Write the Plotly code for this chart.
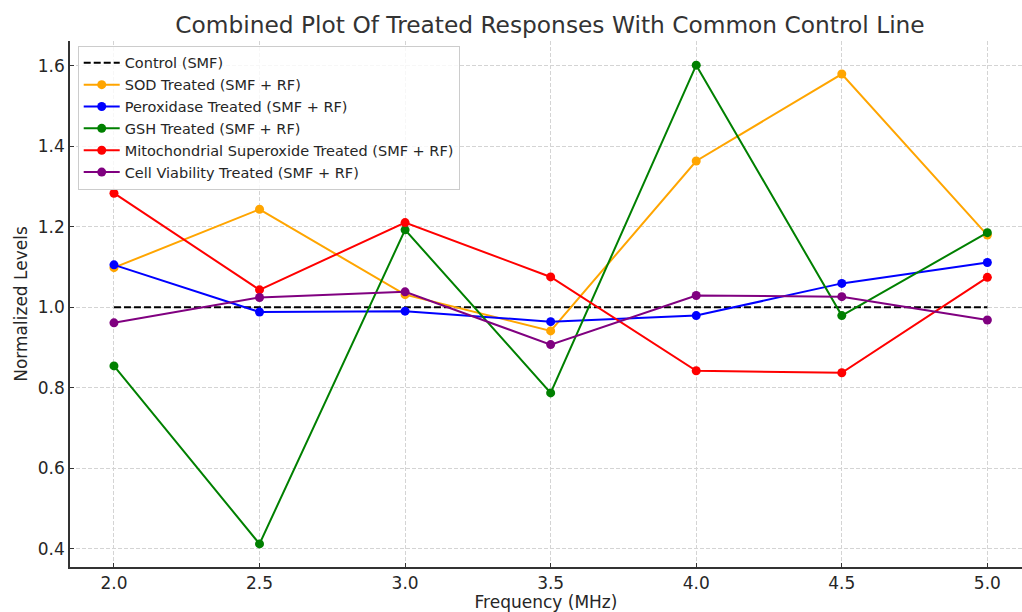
import plotly.graph_objects as go

freq = [2.0, 2.5, 3.0, 3.5, 4.0, 4.5, 5.0]
control = [1.0, 1.0, 1.0, 1.0, 1.0, 1.0, 1.0]
sod = [1.098, 1.243, 1.031, 0.941, 1.363, 1.579, 1.179]
peroxidase = [1.105, 0.988, 0.990, 0.964, 0.979, 1.059, 1.111]
gsh = [0.854, 0.412, 1.192, 0.787, 1.601, 0.979, 1.185]
mito = [1.283, 1.043, 1.210, 1.075, 0.842, 0.837, 1.074]
viability = [0.961, 1.024, 1.038, 0.907, 1.029, 1.026, 0.968]

series = [
    ("SOD Treated (SMF + RF)", sod, "#FFA500"),
    ("Peroxidase Treated (SMF + RF)", peroxidase, "#0000FF"),
    ("GSH Treated (SMF + RF)", gsh, "#008000"),
    ("Mitochondrial Superoxide Treated (SMF + RF)", mito, "#FF0000"),
    ("Cell Viability Treated (SMF + RF)", viability, "#800080"),
]

font_family = "DejaVu Sans"
fig = go.Figure()
fig.add_trace(go.Scatter(x=freq, y=control, mode="lines", name="Control (SMF)",
                         line=dict(color="black", width=2, dash="7px,3px")))
for name, vals, col in series:
    fig.add_trace(go.Scatter(x=freq, y=vals, mode="lines+markers", name=name,
                             line=dict(color=col, width=2),
                             marker=dict(color=col, size=9)))

axis_common = dict(
    showgrid=True, gridcolor="#d4d4d4", griddash="4px,2px", gridwidth=1,
    zeroline=False, showline=True, linecolor="#333333", linewidth=1.5,
    ticks="inside", ticklen=4, tickwidth=1, tickcolor="#333333",
    tickfont=dict(family=font_family, size=17, color="#262626"),
    title_font=dict(family=font_family, size=17, color="#262626"),
)

fig.update_layout(
    width=1022, height=612,
    margin=dict(l=70, r=0, t=41, b=45),
    paper_bgcolor="white", plot_bgcolor="white",
    font=dict(family=font_family, color="#262626"),
    title=dict(text="Combined Plot Of Treated Responses With Common Control Line",
               x=550/1022, xanchor="center", xref="container",
               y=1 - 25/612, yanchor="middle", yref="container",
               font=dict(family=font_family, size=23.3, color="#333333")),
    xaxis=dict(range=[1.849, 5.119], tickvals=[2.0, 2.5, 3.0, 3.5, 4.0, 4.5, 5.0],
               ticktext=["2.0", "2.5", "3.0", "3.5", "4.0", "4.5", "5.0"],
               title=dict(text="Frequency (MHz)", standoff=6), **axis_common),
    yaxis=dict(range=[0.3546, 1.661], tickvals=[0.4, 0.6, 0.8, 1.0, 1.2, 1.4, 1.6],
               ticktext=["0.4", "0.6", "0.8", "1.0", "1.2", "1.4", "1.6"],
               title=dict(text="Normalized Levels", standoff=6), **axis_common),
    legend=dict(x=0.0081, y=0.9907, xanchor="left", yanchor="top", itemwidth=36,
                bgcolor="rgba(255,255,255,0.8)", bordercolor="#cccccc", borderwidth=1,
                font=dict(family=font_family, size=14.5, color="#262626")),
    showlegend=True,
)

fig.write_html("out.html")
